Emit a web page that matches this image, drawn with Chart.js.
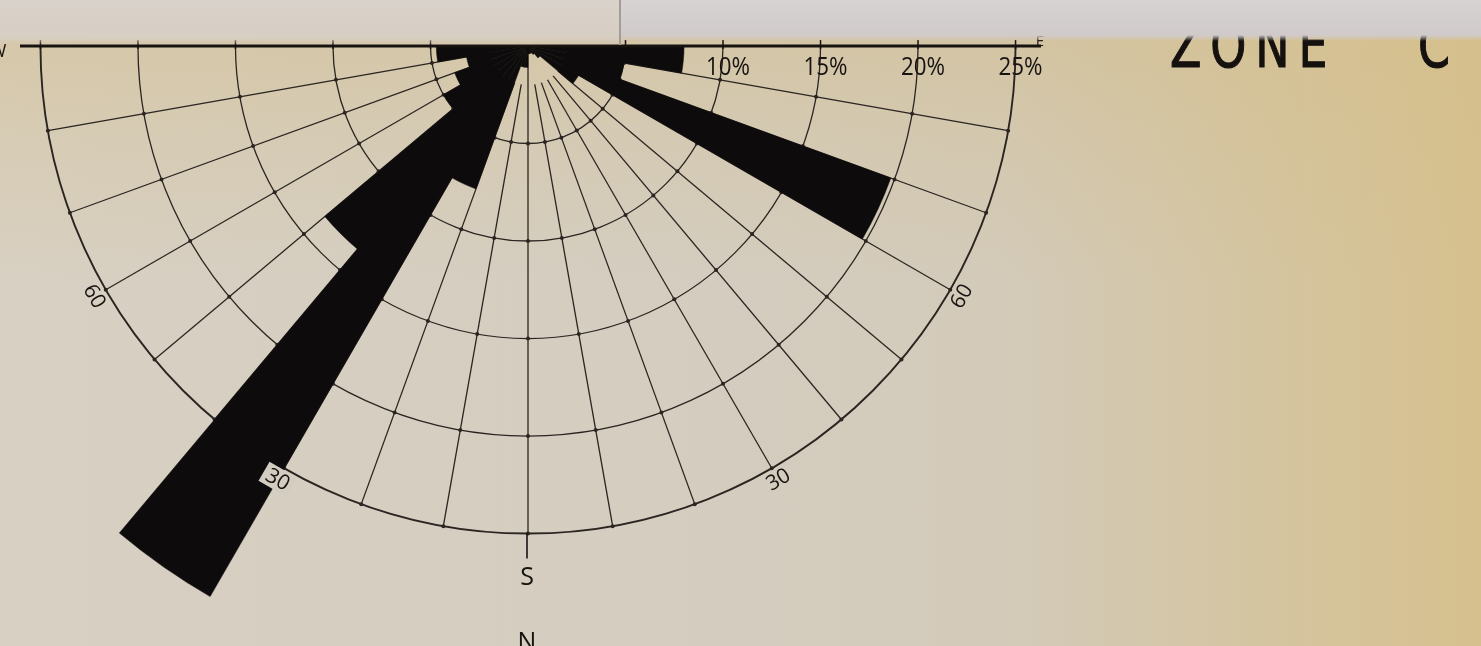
<!DOCTYPE html>
<html lang="en">
<head>
<meta charset="utf-8">
<title>Zone C – joint rose diagram</title>
<script src="https://cdn.jsdelivr.net/npm/chart.js@4.4.1/dist/chart.umd.min.js"></script>
<style>
  html, body { margin: 0; padding: 0; }
  body {
    width: 1481px;
    height: 646px;
    overflow: hidden;
    position: relative;
    background:
      linear-gradient(to bottom, rgba(212,190,138,0.55) 0px, rgba(212,190,138,0.25) 130px, rgba(212,190,138,0) 280px),
      linear-gradient(to right, #d8d0c2 0%, #d4cdc0 45%, #d3cab9 68%, #d4c5a2 84%, #d6c08e 100%);
  }
  #rose { position: absolute; left: -122px; top: -604px; }
  .zone {
    position: absolute;
    top: 15px;
    font-family: "DejaVu Sans", sans-serif;
    font-size: 62px;
    line-height: 62px;
    color: #15110f;
    -webkit-text-stroke: 1.2px #15110f;
    transform-origin: left top;
    transform: scaleX(0.74);
    letter-spacing: 12px;
    white-space: nowrap;
  }
  .band { position: absolute; top: 0; height: 46px; }
  #band-left  { left: 0; width: 620px;
    background: linear-gradient(to bottom, #d9d2ca 0px, #d7cec4 37px, rgba(214,200,176,0) 45px); }
  #band-right { left: 620px; right: 0;
    background: linear-gradient(to bottom, #d7d3d3 0px, #d0cbca 35px, rgba(208,198,170,0) 41px); }
  #fold { position: absolute; left: 619px; top: 0; width: 2px; height: 45px; background: #a59c93; }
</style>
</head>
<body>
<canvas id="rose" width="1300" height="1300"></canvas>
<div class="zone" style="left:1170px">ZONE</div>
<div class="zone" style="left:1418px">C</div>
<div class="band" id="band-left"></div>
<div class="band" id="band-right"></div>
<div id="fold"></div>

<script>
// ─── Data ───────────────────────────────────────────────────────────────────
// 10° strike sectors, clockwise from E through S to W (the plotted half),
// followed by the northern half, which is not shown on this sheet.
const SECTOR_LABELS = [
  '090–100', '100–110', '110–120', '120–130', '130–140', '140–150',
  '150–160', '160–170', '170–180', '180–190', '190–200', '200–210',
  '210–220', '220–230', '230–240', '240–250', '250–260', '260–270',
  '270–280', '280–290', '290–300', '300–310', '310–320', '320–330',
  '330–340', '340–350', '350–360', '000–010', '010–020', '020–030',
  '030–040', '040–050', '050–060', '060–070', '070–080', '080–090',
];

// Percent of joints in each sector.
const SOUTH_PCT = [
  8.0, 5.0, 19.8, 3.0, 0.8, 0.5, 0.4, 0.4, 0.4,
  1.1, 1.1, 7.8, 32.6, 13.6, 5.0, 4.0, 3.2, 4.7,
];
const NORTH_PCT = [
  0, 0, 0, 0, 0, 0, 0, 0, 0,
  0, 0, 0, 0, 0, 0, 0, 0, 0,
];

// Net rings and their labels along the E arm.
const RING_PCT = [5, 10, 15, 20, 25];
const RING_LABELS = ['10%', '15%', '20%', '25%'];
const RING_LABEL_VALUES = [10, 15, 20, 25];

// Angle marks on the rim (degrees from S; positive = west).
const RIM_MARKS = ['60', '30', '30', '60'];
const RIM_MARK_ANGLES = [60, 30, -30, -60];

// ─── Style ──────────────────────────────────────────────────────────────────
const INK = '#171311';
const GRID_INK = '#2b2521';
const PAPER = '#d3ccc1';
const FONT_LETTER = '"Open Sans", "DejaVu Sans", sans-serif';

/**
 * Canvas point at `phiDeg` from S (positive toward W) and `pct` on the r scale.
 * @returns {{x:number, y:number}}
 */
function polarPoint(scale, phiDeg, pct) {
  const d = scale.getDistanceFromCenterForValue(pct);
  const a = (phiDeg * Math.PI) / 180;
  return { x: scale.xCenter - d * Math.sin(a), y: scale.yCenter + d * Math.cos(a) };
}

/**
 * Percent value of the sector containing the direction phiDeg.
 */
function valueAt(phiDeg) {
  const i = Math.floor((phiDeg + 90) / 10);
  return SOUTH_PCT[Math.max(0, Math.min(SOUTH_PCT.length - 1, i))];
}

// ─── Net (spokes + ring intersections) drawn under the petals ───────────────
function drawSpokes(chart) {
  const { ctx } = chart;
  const r = chart.scales.r;
  const outer = RING_PCT[RING_PCT.length - 1];

  ctx.save();
  ctx.strokeStyle = GRID_INK;
  ctx.lineWidth = 1.3;
  for (let phi = -80; phi <= 80; phi += 10) {
    const p0 = polarPoint(r, phi, phi === 0 ? 0 : 2);
    const p1 = polarPoint(r, phi, outer);
    ctx.beginPath();
    ctx.moveTo(p0.x, p0.y);
    ctx.lineTo(p1.x, p1.y);
    ctx.stroke();
  }

  // little dots where the spokes cross the rings
  ctx.fillStyle = GRID_INK;
  for (let phi = -80; phi <= 80; phi += 10) {
    RING_PCT.forEach((v) => {
      const p = polarPoint(r, phi, v);
      ctx.beginPath();
      ctx.arc(p.x, p.y, 2, 0, Math.PI * 2);
      ctx.fill();
    });
  }
  ctx.restore();
}

// ─── Baseline, ticks and lettering drawn over the petals ────────────────────
function drawBaseline(chart) {
  const { ctx } = chart;
  const r = chart.scales.r;
  const yc = r.yCenter;

  ctx.save();
  ctx.strokeStyle = INK;
  ctx.lineWidth = 3;
  ctx.beginPath();
  ctx.moveTo(r.xCenter - 508, yc);
  ctx.lineTo(r.xCenter + 513, yc);
  ctx.stroke();

  ctx.lineWidth = 1.5;
  RING_PCT.forEach((v) => {
    const d = r.getDistanceFromCenterForValue(v);
    [-d, d].forEach((dx) => {
      ctx.beginPath();
      ctx.moveTo(r.xCenter + dx, yc - 6);
      ctx.lineTo(r.xCenter + dx, yc + 3);
      ctx.stroke();
    });
  });

  // S tick below the rim
  const rim = r.getDistanceFromCenterForValue(RING_PCT[RING_PCT.length - 1]);
  ctx.lineWidth = 1.6;
  ctx.beginPath();
  ctx.moveTo(r.xCenter - 1, yc + rim);
  ctx.lineTo(r.xCenter - 1, yc + rim + 25);
  ctx.stroke();
  ctx.restore();
}

function drawLabels(chart) {
  const { ctx } = chart;
  const r = chart.scales.r;
  const xc = r.xCenter;
  const yc = r.yCenter;

  ctx.save();
  ctx.fillStyle = INK;
  ctx.textAlign = 'center';
  ctx.textBaseline = 'middle';

  // percent scale along the E arm
  RING_LABELS.forEach((text, i) => {
    const d = r.getDistanceFromCenterForValue(RING_LABEL_VALUES[i]);
    ctx.save();
    ctx.translate(xc + d + 5, yc + 22);
    ctx.scale(0.86, 1);
    ctx.font = '400 26px ' + FONT_LETTER;
    ctx.fillText(text, 0, 0);
    ctx.restore();
  });

  // angle marks on the rim, written along the circle
  RIM_MARKS.forEach((text, i) => {
    const phi = RIM_MARK_ANGLES[i];
    const p = polarPoint(r, phi, 25.65);
    ctx.save();
    ctx.translate(p.x, p.y);
    ctx.rotate((phi * Math.PI) / 180);
    if (valueAt(phi + 2) > 25 || valueAt(phi - 2) > 25) {
      ctx.fillStyle = PAPER;
      ctx.fillRect(-16, -11, 32, 22);
      ctx.fillStyle = INK;
    }
    ctx.font = '400 21px ' + FONT_LETTER;
    ctx.fillText(text, 0, 1);
    ctx.restore();
  });

  // compass letters
  ctx.font = '400 25px ' + FONT_LETTER;
  ctx.fillText('S', xc - 1, yc + 532);
  ctx.textBaseline = 'top';
  ctx.fillText('N', xc - 1, yc + 584);
  ctx.textBaseline = 'middle';
  ctx.font = '400 18px ' + FONT_LETTER;
  ctx.fillText('W', xc - 530, yc + 6);
  ctx.font = '400 15px ' + FONT_LETTER;
  ctx.fillText('E', xc + 512, yc - 4);
  ctx.restore();
}

// ─── Plugin: clip the northern half, then decorate ──────────────────────────
const roseDecor = {
  id: 'roseDecor',
  beforeDraw(chart) {
    const r = chart.scales.r;
    chart.ctx.save();
    chart.ctx.beginPath();
    chart.ctx.rect(0, r.yCenter - 1, chart.width, chart.height);
    chart.ctx.clip();
  },
  beforeDatasetsDraw(chart) {
    drawSpokes(chart);
  },
  afterDatasetsDraw(chart) {
    chart.ctx.restore();
    drawBaseline(chart);
    drawLabels(chart);
  },
};

// ─── Chart ──────────────────────────────────────────────────────────────────
new Chart(document.getElementById('rose'), {
  type: 'polarArea',
  data: {
    labels: SECTOR_LABELS,
    datasets: [
      {
        data: SOUTH_PCT.concat(NORTH_PCT),
        backgroundColor: '#0d0b0b',
        borderColor: '#0d0b0b',
        borderWidth: 0.5,
      },
    ],
  },
  options: {
    responsive: false,
    animation: false,
    events: [],
    layout: { padding: 0 },
    plugins: {
      legend: { display: false },
      tooltip: { enabled: false },
    },
    scales: {
      r: {
        startAngle: 90,
        min: 0,
        max: 33.33,
        ticks: { display: false, stepSize: 5 },
        angleLines: { display: false },
        pointLabels: { display: false },
        grid: {
          circular: true,
          color: (c) => (c.tick && c.tick.value <= 25 ? GRID_INK : 'rgba(0,0,0,0)'),
          lineWidth: (c) => (c.tick && c.tick.value === 25 ? 1.9 : 1.3),
        },
      },
    },
  },
  plugins: [roseDecor],
});
</script>
</body>
</html>
